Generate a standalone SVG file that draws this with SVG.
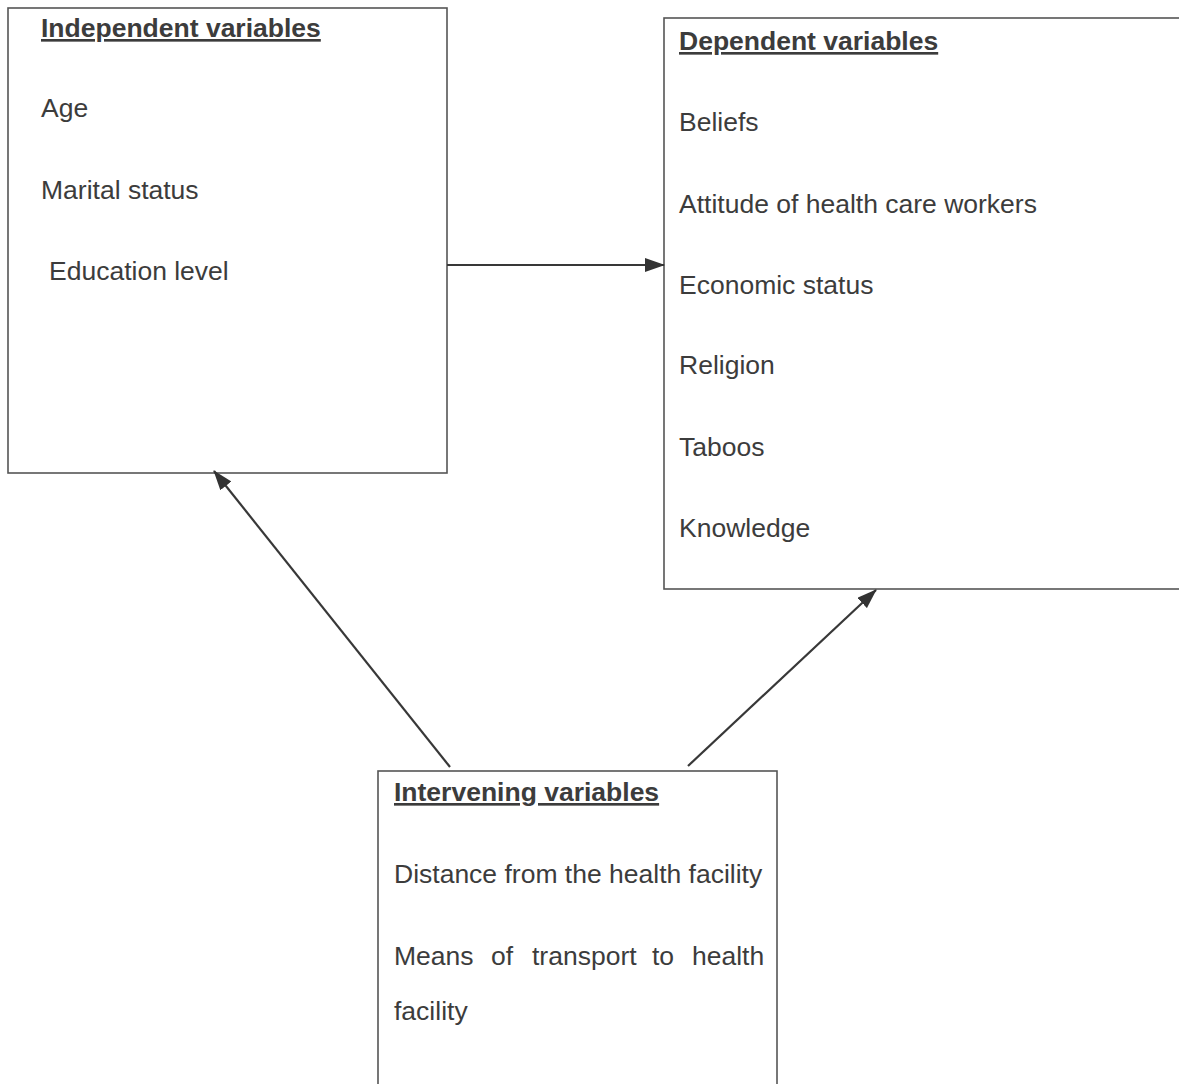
<svg xmlns="http://www.w3.org/2000/svg" width="1179" height="1084" viewBox="0 0 1179 1084">
<style>
.box{fill:#fff;stroke:#555;stroke-width:1.6}
.t{font-family:"Liberation Sans",Arial,sans-serif;font-size:26.5px;fill:#3c3c3c}
.h{font-weight:bold;text-decoration:underline}
.c{stroke:#383838;stroke-width:2.2;fill:none}
</style>
<defs>
<marker id="ah" viewBox="0 0 20 14" refX="19" refY="7" markerWidth="20" markerHeight="14" markerUnits="userSpaceOnUse" orient="auto">
<path d="M0,0 L20,7 L0,14 Z" fill="#333"/>
</marker>
</defs>
<rect width="1179" height="1084" fill="#fff"/>
<g id="independent">
<rect class="box" x="8" y="8" width="439" height="465"/>
<text class="t h" x="41" y="37">Independent variables</text>
<text class="t" x="41" y="117">Age</text>
<text class="t" x="41" y="199">Marital status</text>
<text class="t" x="49" y="280">Education level</text>
</g>
<g id="dependent">
<rect class="box" x="664" y="18" width="530" height="571"/>
<text class="t h" x="679" y="50">Dependent variables</text>
<text class="t" x="679" y="131">Beliefs</text>
<text class="t" x="679" y="213">Attitude of health care workers</text>
<text class="t" x="679" y="294">Economic status</text>
<text class="t" x="679" y="374">Religion</text>
<text class="t" x="679" y="456">Taboos</text>
<text class="t" x="679" y="537">Knowledge</text>
</g>
<g id="intervening">
<rect class="box" x="378" y="771" width="399" height="330"/>
<text class="t h" x="394" y="801">Intervening variables</text>
<text class="t" x="394" y="883">Distance from the health facility</text>
<text class="t" y="965"><tspan x="394">Means</tspan><tspan x="491">of</tspan><tspan x="532">transport</tspan><tspan x="652">to</tspan><tspan x="692">health</tspan></text>
<text class="t" x="394" y="1020">facility</text>
</g>
<g id="connectors">
<line class="c" x1="447" y1="265" x2="664" y2="265" marker-end="url(#ah)"/>
<line class="c" x1="450" y1="767" x2="214" y2="471" marker-end="url(#ah)"/>
<line class="c" x1="688" y1="766" x2="876" y2="590" marker-end="url(#ah)"/>
</g>
</svg>
